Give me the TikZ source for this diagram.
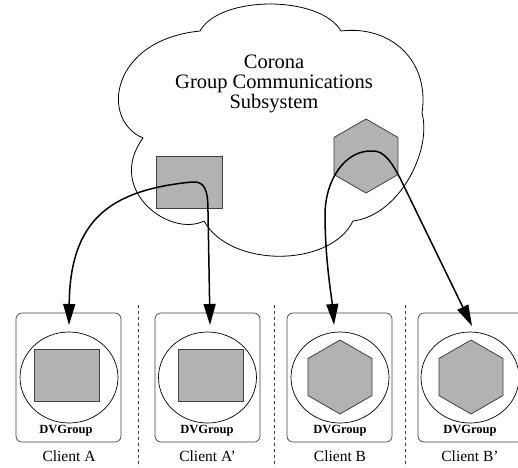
\documentclass[tikz,border=0pt]{standalone}
\usepackage{fontspec}
\setmainfont{Liberation Serif}
\usetikzlibrary{shapes.geometric,arrows.meta}
\begin{document}
\begin{tikzpicture}[x=1pt,y=-1pt,
  clientbox/.style={draw=black!75, line width=0.7pt, rounded corners=6pt, minimum width=105pt, minimum height=129pt, inner sep=0pt},
  oval/.style={draw=black, ellipse, line width=0.7pt, minimum width=98pt, minimum height=91pt, inner sep=0pt},
  sq/.style={draw=black!75, fill=black!30, line width=0.8pt, minimum width=65pt, minimum height=52pt, inner sep=0pt},
  hexa/.style={draw=black!75, fill=black!30, line width=0.8pt, regular polygon, regular polygon sides=6, shape border rotate=30, minimum size=74pt, inner sep=0pt},
  grp/.style={font=\fontsize{12.5}{14}\selectfont\bfseries, anchor=base, inner sep=0pt},
  cl/.style={font=\fontsize{15.5}{17}\selectfont, anchor=base, inner sep=0pt},
  sep/.style={draw=black!75, line width=0.7pt, dash pattern=on 3pt off 3pt},
  link/.style={draw=black, line width=1.5pt, -{Triangle[length=21pt,width=12pt]}},
  cloudline/.style={draw=black, line width=0.8pt, fill=white, line join=miter}
]
\useasboundingbox (0,0) rectangle (518,467);
\clip (0,0) rectangle (518,467);

% cloud
\draw[cloudline] (143,138) .. controls (100,120) and (110,40) .. (200,31)
  .. controls (220,-5) and (320,-5) .. (341,31)
  .. controls (390,25) and (430,60) .. (422,113)
  .. controls (432,150) and (400,215) .. (353,221)
  .. controls (330,268) and (230,268) .. (204,221)
  .. controls (170,238) and (105,190) .. (143,138) -- cycle;

\node[align=center, font=\fontsize{20.5}{20}\selectfont, inner sep=0pt] (title) at (274,84) {Corona\\Group Communications\\Subsystem};

\node[sq, minimum width=66pt] (csq) at (189,182) {};
\node[hexa] (chex) at (366,156) {};

% separators
\coordinate (s1t) at (138,305); \coordinate (s1b) at (138,467);
\coordinate (s2t) at (274,305); \coordinate (s2b) at (274,467);
\coordinate (s3t) at (405,305); \coordinate (s3b) at (405,467);
\draw[sep] (s1t) -- (s1b);
\draw[sep] (s2t) -- (s2b);
\draw[sep] (s3t) -- (s3b);

% clients
\node[clientbox] (boxA)  at (68.5,377.5) {};
\node[clientbox] (boxAp) at (207.5,377.5) {};
\node[clientbox] (boxB)  at (339.5,377.5) {};
\node[clientbox] (boxBp) at (470.5,377.5) {};

\node[oval] (ovA)  at (69,377.5) {};
\node[oval] (ovAp) at (207.5,377.5) {};
\node[oval] (ovB)  at (340,377.5) {};
\node[oval] (ovBp) at (470,377.5) {};

\node[sq] (sqA)  at (66.5,375) {};
\node[sq] (sqAp) at (210.5,375) {};
\node[hexa] (hxB)  at (340,377) {};
\node[hexa] (hxBp) at (471,377) {};

\node[grp] (gA)  at (66,433) {DVGroup};
\node[grp] (gAp) at (207,433) {DVGroup};
\node[grp] (gB)  at (340,433) {DVGroup};
\node[grp] (gBp) at (470,433) {DVGroup};

\node[cl] (cA)  at (69,461.5) {Client A};
\node[cl] (cAp) at (207.5,461.5) {Client A'};
\node[cl] (cB)  at (340,461.5) {Client B};
\node[cl] (cBp) at (470,461.5) {Client B'};

% arrows
\coordinate (p1) at (192,182);
\coordinate (p2) at (372,151);
\coordinate (tipA) at (69,325);
\coordinate (tipAp) at (210,325);
\coordinate (tipB) at (334,325);
\coordinate (tipBp) at (472,326);

\draw[link] (p1) .. controls (110,190) and (70,220) .. (tipA);
\draw[link] (p1) .. controls (205,181) and (208,190) .. (208,212) -- (tipAp);
\draw[link] (p2) .. controls (345,150) and (325,180) .. (325,215) .. controls (325,260) and (332,300) .. (tipB);
\draw[link] (p2) .. controls (385,150) and (393,165) .. (400,178) -- (tipBp);
\end{tikzpicture}
\end{document}
